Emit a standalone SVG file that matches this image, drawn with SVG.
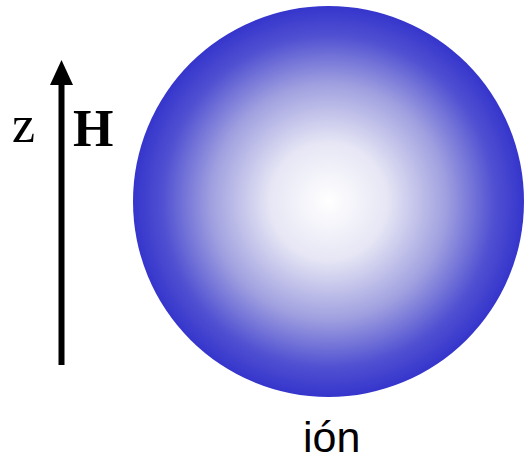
<svg xmlns="http://www.w3.org/2000/svg" width="525" height="461" viewBox="0 0 525 461">
<style>
.serif{font-family:"Liberation Serif","Times New Roman",serif;font-size:52px;fill:#000}
.sans{font-family:"Liberation Sans",Arial,sans-serif;font-size:43px;fill:#000}
</style>
<defs>
<radialGradient id="g" cx="0.5" cy="0.5" r="0.5">
<stop offset="0" stop-color="#ffffff"/>
<stop offset="0.3" stop-color="#e6e6f5"/>
<stop offset="0.6" stop-color="#a0a0e0"/>
<stop offset="0.85" stop-color="#5050d2"/>
<stop offset="1" stop-color="#3535cc"/>
</radialGradient>
</defs>
<g id="connectors">
<line x1="61.5" y1="365" x2="61.5" y2="80" stroke="#000" stroke-width="6"/>
<polygon points="61.5,60 50,85 73,85" fill="#000"/>
</g>
<g id="labels">
<text class="serif" x="12" y="142" font-size="53">z</text>
<text class="serif" x="73" y="146" font-weight="bold">H</text>
</g>
<g id="ion">
<circle cx="328.5" cy="201.5" r="195.5" fill="url(#g)"/>
<text class="sans" x="303" y="452">ión</text>
</g>
</svg>
